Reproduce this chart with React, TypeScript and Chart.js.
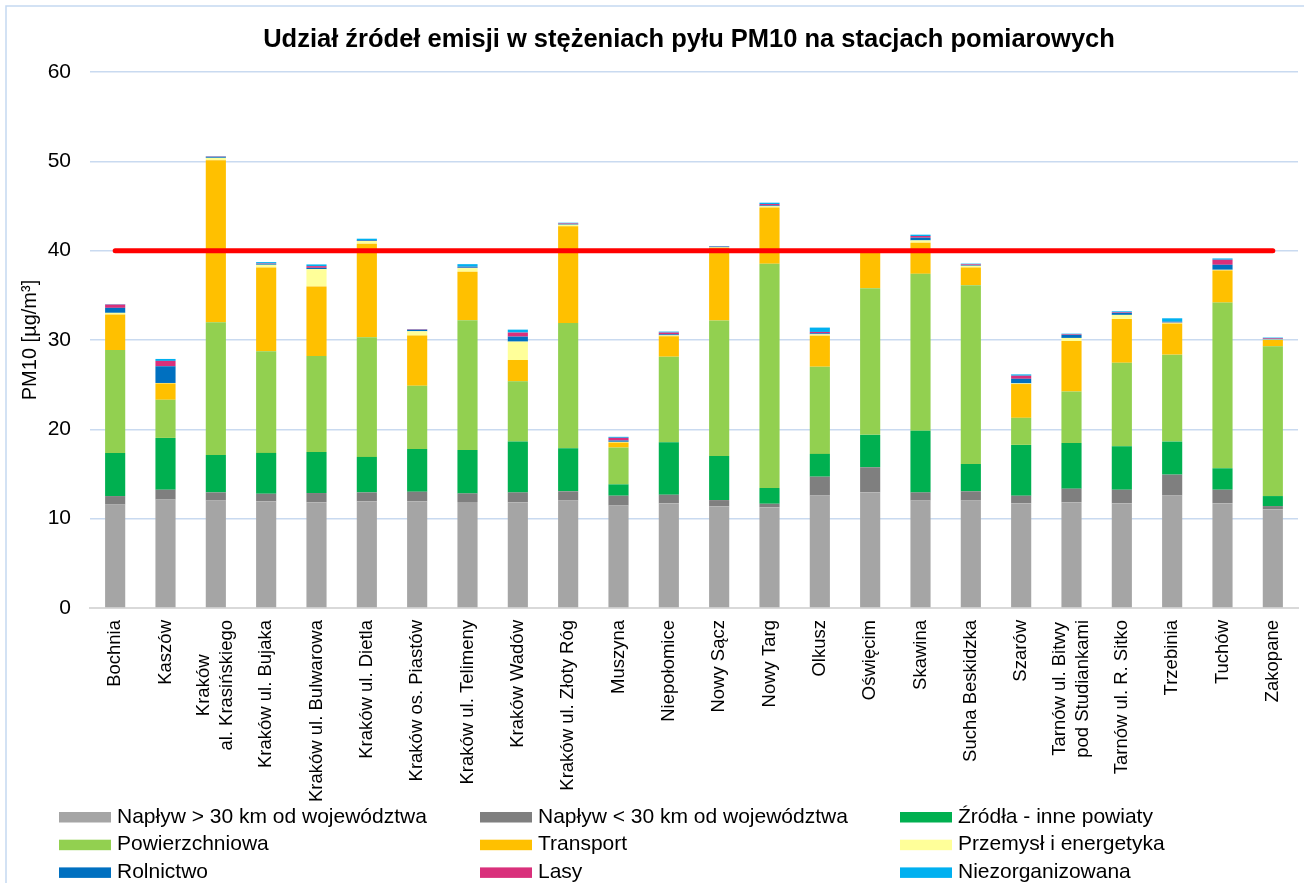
import React, { useEffect, useRef } from "react";
import { Chart, registerables } from "chart.js";

Chart.register(...registerables);

const TITLE = "Udział źródeł emisji w stężeniach pyłu PM10 na stacjach pomiarowych";
const Y_TITLE = "PM10 [µg/m³]";

const STATIONS: string[][] = [
  ["Bochnia"],
  ["Kaszów"],
  ["Kraków", "al. Krasińskiego"],
  ["Kraków ul. Bujaka"],
  ["Kraków ul. Bulwarowa"],
  ["Kraków ul. Dietla"],
  ["Kraków os. Piastów"],
  ["Kraków ul. Telimeny"],
  ["Kraków Wadów"],
  ["Kraków ul. Złoty Róg"],
  ["Muszyna"],
  ["Niepołomice"],
  ["Nowy Sącz"],
  ["Nowy Targ"],
  ["Olkusz"],
  ["Oświęcim"],
  ["Skawina"],
  ["Sucha Beskidzka"],
  ["Szarów"],
  ["Tarnów ul. Bitwy", "pod Studiankami"],
  ["Tarnów ul. R. Sitko"],
  ["Trzebinia"],
  ["Tuchów"],
  ["Zakopane"],
];

const NAPLYW_GT30 = [11.6, 12.16, 12.05, 11.93, 11.82, 11.93, 11.93, 11.86, 11.82, 12.05, 11.49, 11.71, 11.37, 11.26, 12.61, 12.94, 12.05, 12.05, 11.71, 11.82, 11.71, 12.61, 11.71, 11.04];
const NAPLYW_LT30 = [0.93, 1.08, 0.89, 0.86, 1.05, 1.01, 1.09, 0.97, 1.12, 1.01, 1.08, 0.97, 0.71, 0.41, 2.09, 2.81, 0.89, 1.01, 0.86, 1.54, 1.53, 2.32, 1.53, 0.37];
const ZRODLA_INNE = [4.83, 5.8, 4.19, 4.57, 4.6, 3.97, 4.79, 4.87, 5.69, 4.82, 1.27, 5.88, 4.94, 1.76, 2.55, 3.63, 6.89, 3.06, 5.69, 5.12, 4.87, 3.7, 2.4, 1.12];
const POWIERZCHNIOWA = [11.52, 4.27, 14.86, 11.37, 10.74, 13.39, 7.07, 14.51, 6.74, 14.03, 4.12, 9.57, 15.15, 25.1, 9.76, 16.42, 17.58, 20.02, 3.03, 5.76, 9.35, 9.73, 18.55, 16.76];
const TRANSPORT = [3.97, 1.83, 18.14, 9.39, 7.78, 10.48, 5.61, 5.43, 2.39, 10.81, 0.56, 2.29, 8.16, 6.29, 3.48, 4.0, 3.48, 1.98, 3.78, 5.65, 4.9, 3.48, 3.6, 0.71];
const PRZEMYSL = [0.19, 0.05, 0.26, 0.3, 1.94, 0.3, 0.49, 0.41, 2.06, 0.19, 0.08, 0.1, 0.05, 0.15, 0.15, 0.05, 0.26, 0.19, 0.07, 0.34, 0.45, 0.09, 0.07, 0.05];
const ROLNICTWO = [0.56, 1.87, 0.1, 0.1, 0.15, 0.08, 0.15, 0.08, 0.56, 0.08, 0.15, 0.12, 0.08, 0.1, 0.11, 0.05, 0.3, 0.08, 0.52, 0.34, 0.22, 0.05, 0.56, 0.08];
const LASY = [0.37, 0.6, 0.04, 0.05, 0.19, 0.03, 0.05, 0.06, 0.45, 0.06, 0.3, 0.19, 0.03, 0.15, 0.15, 0.03, 0.19, 0.08, 0.34, 0.07, 0.07, 0.05, 0.56, 0.08];
const NIEZORGANIZOWANA = [0.05, 0.22, 0.05, 0.15, 0.19, 0.15, 0.05, 0.3, 0.33, 0.08, 0.11, 0.11, 0.03, 0.15, 0.49, 0.05, 0.15, 0.08, 0.15, 0.07, 0.11, 0.4, 0.15, 0.06];
const LIMIT = [40, 40, 40, 40, 40, 40, 40, 40, 40, 40, 40, 40, 40, 40, 40, 40, 40, 40, 40, 40, 40, 40, 40, 40];

const SERIES_LABELS = [
  "Napływ > 30 km od województwa",
  "Napływ < 30 km od województwa",
  "Źródła - inne powiaty",
  "Powierzchniowa",
  "Transport",
  "Przemysł i energetyka",
  "Rolnictwo",
  "Lasy",
  "Niezorganizowana",
];
const SERIES_COLORS = ["#a5a5a5", "#7f7f7f", "#00b050", "#92d050", "#ffc000", "#ffff99", "#0070c0", "#d9307b", "#00b0f0"];
const SERIES_DATA = [NAPLYW_GT30, NAPLYW_LT30, ZRODLA_INNE, POWIERZCHNIOWA, TRANSPORT, PRZEMYSL, ROLNICTWO, LASY, NIEZORGANIZOWANA];

const FONT = '"Liberation Sans", Arial, sans-serif';

const decorPlugin = {
  id: "decor",
  afterDraw(chart: any) {
    const ctx = chart.ctx as CanvasRenderingContext2D;
    const area = chart.chartArea;
    const xScale = chart.scales.x;
    ctx.save();
    // frame
    ctx.strokeStyle = "#c5d9f1";
    ctx.lineWidth = 1.5;
    ctx.strokeRect(6, 6, 1500, 1500);
    // title
    ctx.fillStyle = "#000";
    ctx.font = `bold 25.5px ${FONT}`;
    ctx.textAlign = "center";
    ctx.textBaseline = "alphabetic";
    ctx.fillText(TITLE, 689, 47);
    // x labels
    ctx.font = `18.5px ${FONT}`;
    ctx.fillStyle = "#000";
    const lh = 23;
    STATIONS.forEach((lines, i) => {
      const x = xScale.getPixelForValue(i);
      ctx.save();
      ctx.translate(x, area.bottom + 12);
      ctx.rotate(-Math.PI / 2);
      ctx.textBaseline = "middle";
      if (lines.length === 1) {
        ctx.textAlign = "right";
        ctx.fillText(lines[0], 0, 0);
      } else {
        const maxW = Math.max(...lines.map((l) => ctx.measureText(l).width));
        ctx.textAlign = "center";
        lines.forEach((l, j) => {
          ctx.fillText(l, -maxW / 2, (j - (lines.length - 1) / 2) * lh);
        });
      }
      ctx.restore();
    });
    // legend (3 columns grid)
    const colX = [59, 480, 900];
    const rowY = [817, 844.7, 872.4];
    ctx.font = `21px ${FONT}`;
    ctx.textAlign = "left";
    ctx.textBaseline = "middle";
    chart.data.datasets.forEach((ds: any, i: number) => {
      if (ds.type === "line") return;
      const c = i % 3;
      const r = Math.floor(i / 3);
      ctx.fillStyle = ds.backgroundColor;
      ctx.fillRect(colX[c], rowY[r] - 5, 52, 10.5);
      ctx.fillStyle = "#000";
      ctx.fillText(ds.label, colX[c] + 58, rowY[r]);
    });
    ctx.restore();
  },
};

export default function App() {
  const ref = useRef<HTMLCanvasElement | null>(null);
  useEffect(() => {
    if (!ref.current) return;
    const datasets: any[] = SERIES_DATA.map((d, i) => ({
      type: "bar",
      label: SERIES_LABELS[i],
      data: d,
      backgroundColor: SERIES_COLORS[i],
      borderWidth: 0,
      stack: "s",
      order: 1,
      barPercentage: 0.4,
      categoryPercentage: 1,
    }));
    datasets.push({
      type: "line",
      label: "Limit",
      data: LIMIT,
      borderColor: "#ff0000",
      borderWidth: 5,
      borderCapStyle: "round",
      pointRadius: 0,
      fill: false,
      stack: "limit",
      order: 0,
    });
    const chart = new Chart(ref.current, {
      type: "bar",
      data: { labels: STATIONS.map((s) => s.join(" ")), datasets },
      options: {
        animation: false,
        responsive: true,
        maintainAspectRatio: false,
        layout: { padding: { top: 72, right: 6, bottom: 75, left: 0 } },
        plugins: { legend: { display: false }, tooltip: { enabled: false }, title: { display: false } },
        scales: {
          x: {
            stacked: true,
            grid: { display: false },
            border: { display: true, color: "#d9d9d9", width: 2 },
            ticks: { display: false },
            afterFit: (s: any) => {
              s.height = 200;
            },
          },
          y: {
            stacked: true,
            min: 0,
            max: 60,
            ticks: { stepSize: 10, color: "#000", padding: 19, font: { family: FONT, size: 21 } },
            grid: { color: "#c9daf0", lineWidth: 1.5, drawTicks: false },
            border: { display: false },
            title: {
              display: true,
              text: Y_TITLE,
              color: "#000",
              font: { family: FONT, size: 20 },
              padding: { top: 18, bottom: 0 },
            },
            afterFit: (s: any) => {
              s.width = 90;
            },
          },
        },
      },
      plugins: [decorPlugin],
    });
    return () => chart.destroy();
  }, []);
  return (
    <div style={{ position: "absolute", left: 0, top: 0, width: 1304, height: 883, background: "#fff" }}>
      <canvas ref={ref} />
    </div>
  );
}
